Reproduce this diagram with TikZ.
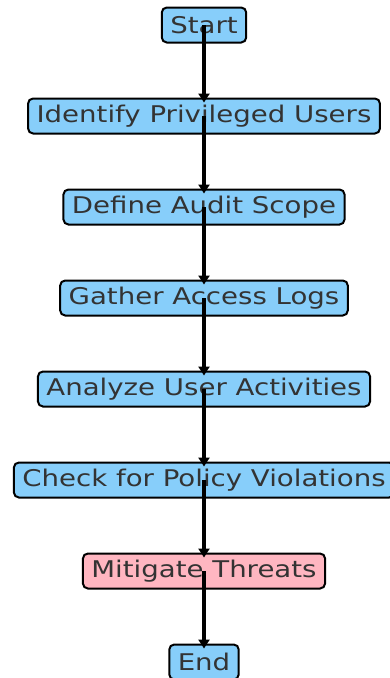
\documentclass[tikz,border=0pt]{standalone}
\usepackage{fontspec}
\setmainfont[FakeStretch=1.2]{DejaVu Sans}
\usepackage{tikz}
\usetikzlibrary{arrows.meta,positioning}
\definecolor{stepblue}{HTML}{87CEFA}
\definecolor{steppink}{HTML}{FFB6C1}
\definecolor{steptext}{HTML}{333333}

\begin{document}
\begin{tikzpicture}[
    node distance=54pt,
    stepbox/.style={draw, line width=2pt, rounded corners=5pt, fill=stepblue,
        text=steptext, minimum height=35pt, inner xsep=8.5pt,
        font=\fontsize{23}{26}\selectfont},
    alertbox/.style={stepbox, fill=steppink},
    flow/.style={line width=3.5pt, -{Triangle[length=9pt,width=11pt]}, shorten >=-5pt}
]
    \useasboundingbox (0,0) rectangle (390pt,-678pt);
    % the steps, top to bottom
    \node [stepbox] (start) at (204pt,-25pt) {Start};
    \node [stepbox, below=of start] (identify) {Identify Privileged Users};
    \node [stepbox, below=of identify] (scope) {Define Audit Scope};
    \node [stepbox, below=of scope] (logs) {Gather Access Logs};
    \node [stepbox, below=of logs] (analyze) {Analyze User Activities};
    \node [stepbox, below=of analyze] (policy) {Check for Policy Violations};
    \node [alertbox, below=of policy] (mitigate) {Mitigate Threats};
    \node [stepbox, below=of mitigate] (end) {End};
    % arrows run from each step's centre to the next box
    \draw [flow] (start.center) -- (identify.north);
    \draw [flow] (identify.center) -- (scope.north);
    \draw [flow] (scope.center) -- (logs.north);
    \draw [flow] (logs.center) -- (analyze.north);
    \draw [flow] (analyze.center) -- (policy.north);
    \draw [flow] (policy.center) -- (mitigate.north);
    \draw [flow] (mitigate.center) -- (end.north);
\end{tikzpicture}
\end{document}
